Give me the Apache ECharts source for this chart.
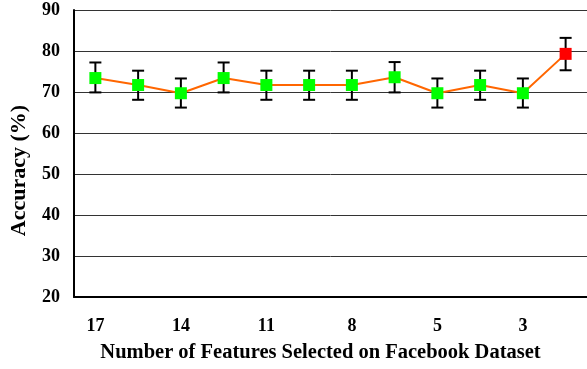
<!DOCTYPE html>
<html><head><meta charset="utf-8">
<script src="https://cdn.jsdelivr.net/npm/echarts@6/dist/echarts.min.js"></script>
<style>html,body{margin:0;padding:0;background:#fff}#c{width:587px;height:369px}</style>
</head><body><div id="c"></div>
<script>
const categories = ['17','15','14','12','11','9','8','6','5','4','3','2'];
const accuracy = [73.4, 71.7, 69.7, 73.4, 71.7, 71.7, 71.7, 73.6, 69.7, 71.7, 69.7, 79.3];
const errLow = [69.9, 68.1, 66.2, 69.9, 68.1, 68.1, 68.1, 69.9, 66.2, 68.1, 66.2, 75.3];
const errHigh = [77.2, 75.2, 73.3, 77.2, 75.2, 75.2, 75.2, 77.3, 73.3, 75.2, 73.3, 83.2];
const yTicks = [20, 30, 40, 50, 60, 70, 80, 90];
const highlightIndex = 11;

const chart = echarts.init(document.getElementById('c'));
const font = 'Liberation Serif';
chart.setOption({
  animation: false,
  grid: {left: 74, right: 0, top: 10, bottom: 72},
  xAxis: {
    type: 'category', data: categories, boundaryGap: true,
    name: 'Number of Features Selected on Facebook Dataset',
    nameLocation: 'middle', nameGap: 45,
    nameTextStyle: {fontFamily: font, fontWeight: 'bold', fontSize: 20.5, color: '#000', padding: [0, 20, 0, 0]},
    axisLine: {lineStyle: {color: '#000', width: 2}},
    axisTick: {inside: true, length: 6, interval: 0, lineStyle: {color: '#000', width: 1}},
    axisLabel: {interval: 1, margin: 20, fontFamily: font, fontWeight: 'bold', fontSize: 18, color: '#000'}
  },
  yAxis: {
    type: 'value', min: yTicks[0], max: yTicks[yTicks.length-1], interval: 10,
    name: 'Accuracy (%)', nameLocation: 'middle', nameGap: 44,
    nameTextStyle: {fontFamily: font, fontWeight: 'bold', fontSize: 22, color: '#000', padding: [0, 34, 0, 0]},
    axisLine: {show: true, lineStyle: {color: '#000', width: 2}},
    axisTick: {show: false},
    axisLabel: {margin: 14, fontFamily: font, fontWeight: 'bold', fontSize: 18, color: '#000'},
    splitLine: {lineStyle: {color: '#333', width: 1}}
  },
  series: [
    {
      type: 'custom', z: 3,
      data: categories.map((c, i) => [i, errLow[i], errHigh[i]]),
      renderItem: function (params, api) {
        const x = api.value(0);
        const lo = api.coord([x, api.value(1)]);
        const hi = api.coord([x, api.value(2)]);
        const hw = 6;
        const st = {stroke: '#000', lineWidth: 2};
        return {type: 'group', children: [
          {type: 'line', shape: {x1: lo[0], y1: lo[1], x2: hi[0], y2: hi[1]}, style: st},
          {type: 'line', shape: {x1: lo[0]-hw, y1: lo[1], x2: lo[0]+hw, y2: lo[1]}, style: st},
          {type: 'line', shape: {x1: hi[0]-hw, y1: hi[1], x2: hi[0]+hw, y2: hi[1]}, style: st}
        ]};
      }
    },
    {
      type: 'line', z: 4,
      data: accuracy.map((v, i) => ({value: v, itemStyle: {color: i === highlightIndex ? '#ff0000' : '#00ff00'}})),
      symbol: 'rect', symbolSize: 12,
      lineStyle: {color: '#ff6600', width: 2},
      itemStyle: {color: '#00ff00', borderWidth: 0}
    }
  ]
});
</script></body></html>
